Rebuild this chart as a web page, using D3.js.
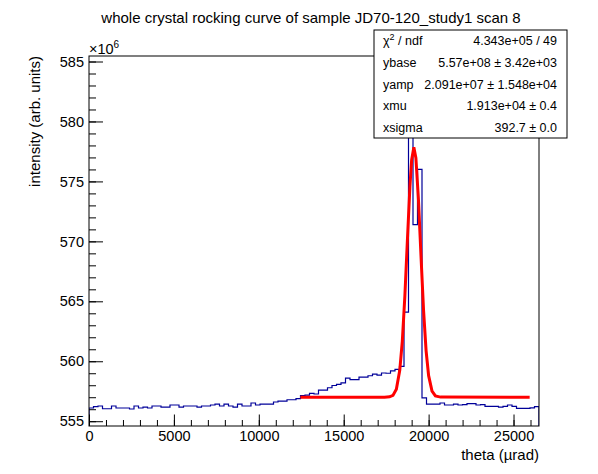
<!DOCTYPE html>
<html>
<head>
<meta charset="utf-8">
<script src="https://cdn.jsdelivr.net/npm/d3@7"></script>
<style>
  body { margin: 0; background: #fff; }
  text { font-family: "Liberation Sans", Arial, Helvetica, sans-serif; }
</style>
</head>
<body>
<script>
/* histogram: theta bins of 265 urad, counts in units of 1e6 */
const binWidth = 265
const counts = [
  556.10, 556.21, 556.27, 556.04, 556.04, 556.27, 556.10, 556.10, 556.10, 556.02,
  556.27, 556.10, 556.18, 556.10, 556.27, 556.27, 556.18, 556.18, 556.35, 556.35,
  556.18, 556.27, 556.27, 556.27, 556.18, 556.27, 556.27, 556.35, 556.43, 556.27,
  556.43, 556.27, 556.18, 556.43, 556.27, 556.27, 556.52, 556.35, 556.43, 556.43,
  556.43, 556.60, 556.68, 556.68, 556.79, 556.79, 556.88, 557.13, 557.18, 557.32,
  557.27, 557.60, 557.60, 557.79, 557.98, 558.07, 558.20, 558.60, 558.46, 558.46,
  558.68, 558.68, 558.79, 558.93, 558.85, 559.02, 559.00, 559.20, 559.33, 559.57,
  564.10, 584.06, 571.40, 576.00, 556.95, 556.43, 556.43, 556.43, 556.52, 556.35,
  556.35, 556.43, 556.35, 556.39, 556.46, 556.46, 556.35, 556.39, 556.23, 556.23,
  556.23, 556.18, 556.23, 556.35, 556.23, 556.07, 556.07, 556.07, 556.12, 556.21
]

/* fit curve */
const fitTheta = [12450, 17400, 17700, 17900, 18100, 18300, 18450, 18600, 18750, 18900, 19000,
  19130, 19250, 19400, 19550, 19700, 19850, 20000, 20200, 20400, 20700, 25950]
const fitValue = [557.0, 557.0, 557.03, 557.15, 557.67, 559.24, 561.66, 565.41, 570.09, 574.61, 576.80,
  577.85, 576.95, 573.51, 568.80, 564.29, 560.89, 558.80, 557.51, 557.11, 557.01, 557.0]

const xTicks = [0, 5000, 10000, 15000, 20000, 25000]
const xMinor = d3.range(0, 26001, 1000)
const yTicks = [555, 560, 565, 570, 575, 580, 585]
const yMinor = d3.range(555, 586, 1)

const statNames = ['χ', 'ybase', 'yamp', 'xmu', 'xsigma']
const statValues = ['4.343e+05 / 49', '5.57e+08 ± 3.42e+03', '2.091e+07 ± 1.548e+04',
  '1.913e+04 ± 0.4', '392.7 ± 0.0']

const titleText = 'whole crystal rocking curve of sample JD70-120_study1 scan 8'

const W = 598, H = 474
const frame = {left: 89, right: 539, top: 56, bottom: 426}
const histColor = '#000099'

const svg = d3.select('body').append('svg')
  .attr('width', W)
  .attr('height', H)

svg.append('rect').attr('width', W).attr('height', H).attr('fill', '#fff')

const x = d3.scaleLinear().domain([0, binWidth * counts.length]).range([frame.left, frame.right])
const y = d3.scaleLinear().domain([554.6, 585.46]).range([frame.bottom, frame.top])

/*histogramme en escalier*/
let pts = [[0, y.domain()[0]]]
counts.forEach((c, i) => {
  pts.push([i * binWidth, c])
  pts.push([(i + 1) * binWidth, c])
})
pts.push([counts.length * binWidth, y.domain()[0]])

svg.append('clipPath').attr('id', 'clip')
  .append('rect')
  .attr('x', frame.left).attr('y', frame.top)
  .attr('width', frame.right - frame.left).attr('height', frame.bottom - frame.top)

svg.append('path')
  .attr('clip-path', 'url(#clip)')
  .attr('d', d3.line().x(d => x(d[0])).y(d => y(d[1]))(pts))
  .attr('fill', 'none')
  .attr('stroke', histColor)
  .attr('stroke-width', 1.2)

/*courbe du fit*/
svg.append('path')
  .attr('d', d3.line().x((d, i) => x(fitTheta[i])).y(d => y(d))(fitValue))
  .attr('fill', 'none')
  .attr('stroke', '#ff0000')
  .attr('stroke-width', 3)

/*axes*/
const styleAxis = g => {
  g.select('.domain').remove()
  g.selectAll('line').attr('stroke', '#000')
  g.selectAll('text').attr('font-size', 14.5).attr('fill', '#000')
    .style('font-family', '"Liberation Sans", Arial, sans-serif')
}

svg.append('g')
  .attr('transform', `translate(0,${frame.bottom})`)
  .call(d3.axisBottom(x).tickValues(xMinor).tickSize(-6).tickFormat(''))
  .call(styleAxis)

svg.append('g')
  .attr('transform', `translate(0,${frame.bottom})`)
  .call(d3.axisBottom(x).tickValues(xTicks).tickSize(-11.5).tickPadding(5).tickFormat(d3.format('d')))
  .call(styleAxis)

svg.append('g')
  .attr('transform', `translate(${frame.left},0)`)
  .call(d3.axisLeft(y).tickValues(yMinor).tickSize(-7).tickFormat(''))
  .call(styleAxis)

svg.append('g')
  .attr('transform', `translate(${frame.left},0)`)
  .call(d3.axisLeft(y).tickValues(yTicks).tickSize(-14).tickPadding(5).tickFormat(d3.format('d')))
  .call(styleAxis)

/*cadre*/
svg.append('rect')
  .attr('x', frame.left).attr('y', frame.top)
  .attr('width', frame.right - frame.left).attr('height', frame.bottom - frame.top)
  .attr('fill', 'none').attr('stroke', '#000').attr('stroke-width', 1)

/*x10^6*/
const expo = svg.append('text').attr('x', frame.left).attr('y', 54).attr('font-size', 14.5)
expo.append('tspan').text('×10')
expo.append('tspan').attr('dy', -6).attr('font-size', 10).text('6')

/*titres*/
svg.append('text')
  .attr('x', 311).attr('y', 23)
  .attr('text-anchor', 'middle')
  .attr('font-size', 15)
  .text(titleText)

svg.append('text')
  .attr('x', frame.right).attr('y', 460)
  .attr('text-anchor', 'end')
  .attr('font-size', 15)
  .text('theta (µrad)')

svg.append('text')
  .attr('transform', `translate(40,${frame.top}) rotate(-90)`)
  .attr('text-anchor', 'end')
  .attr('font-size', 15)
  .text('intensity (arb. units)')

/*boite de stats*/
const box = {x: 374, y: 30, w: 193, h: 108}
const stats = svg.append('g')
stats.append('rect')
  .attr('x', box.x).attr('y', box.y).attr('width', box.w).attr('height', box.h)
  .attr('fill', '#fff').attr('stroke', '#000').attr('stroke-width', 1)

const rowH = box.h / statNames.length
statNames.forEach((n, i) => {
  const yy = box.y + rowH * (i + 0.5) + 4.5
  const t = stats.append('text').attr('x', 383).attr('y', yy).attr('font-size', 12.5)
  t.append('tspan').text(n)
  if (i === 0) {
    t.append('tspan').attr('dy', -5).attr('font-size', 9).text('2')
    t.append('tspan').attr('dy', 5).text(' / ndf')
  }
  stats.append('text')
    .attr('x', 557).attr('y', yy)
    .attr('text-anchor', 'end')
    .attr('font-size', 12.5)
    .text(statValues[i])
})
</script>
</body>
</html>
